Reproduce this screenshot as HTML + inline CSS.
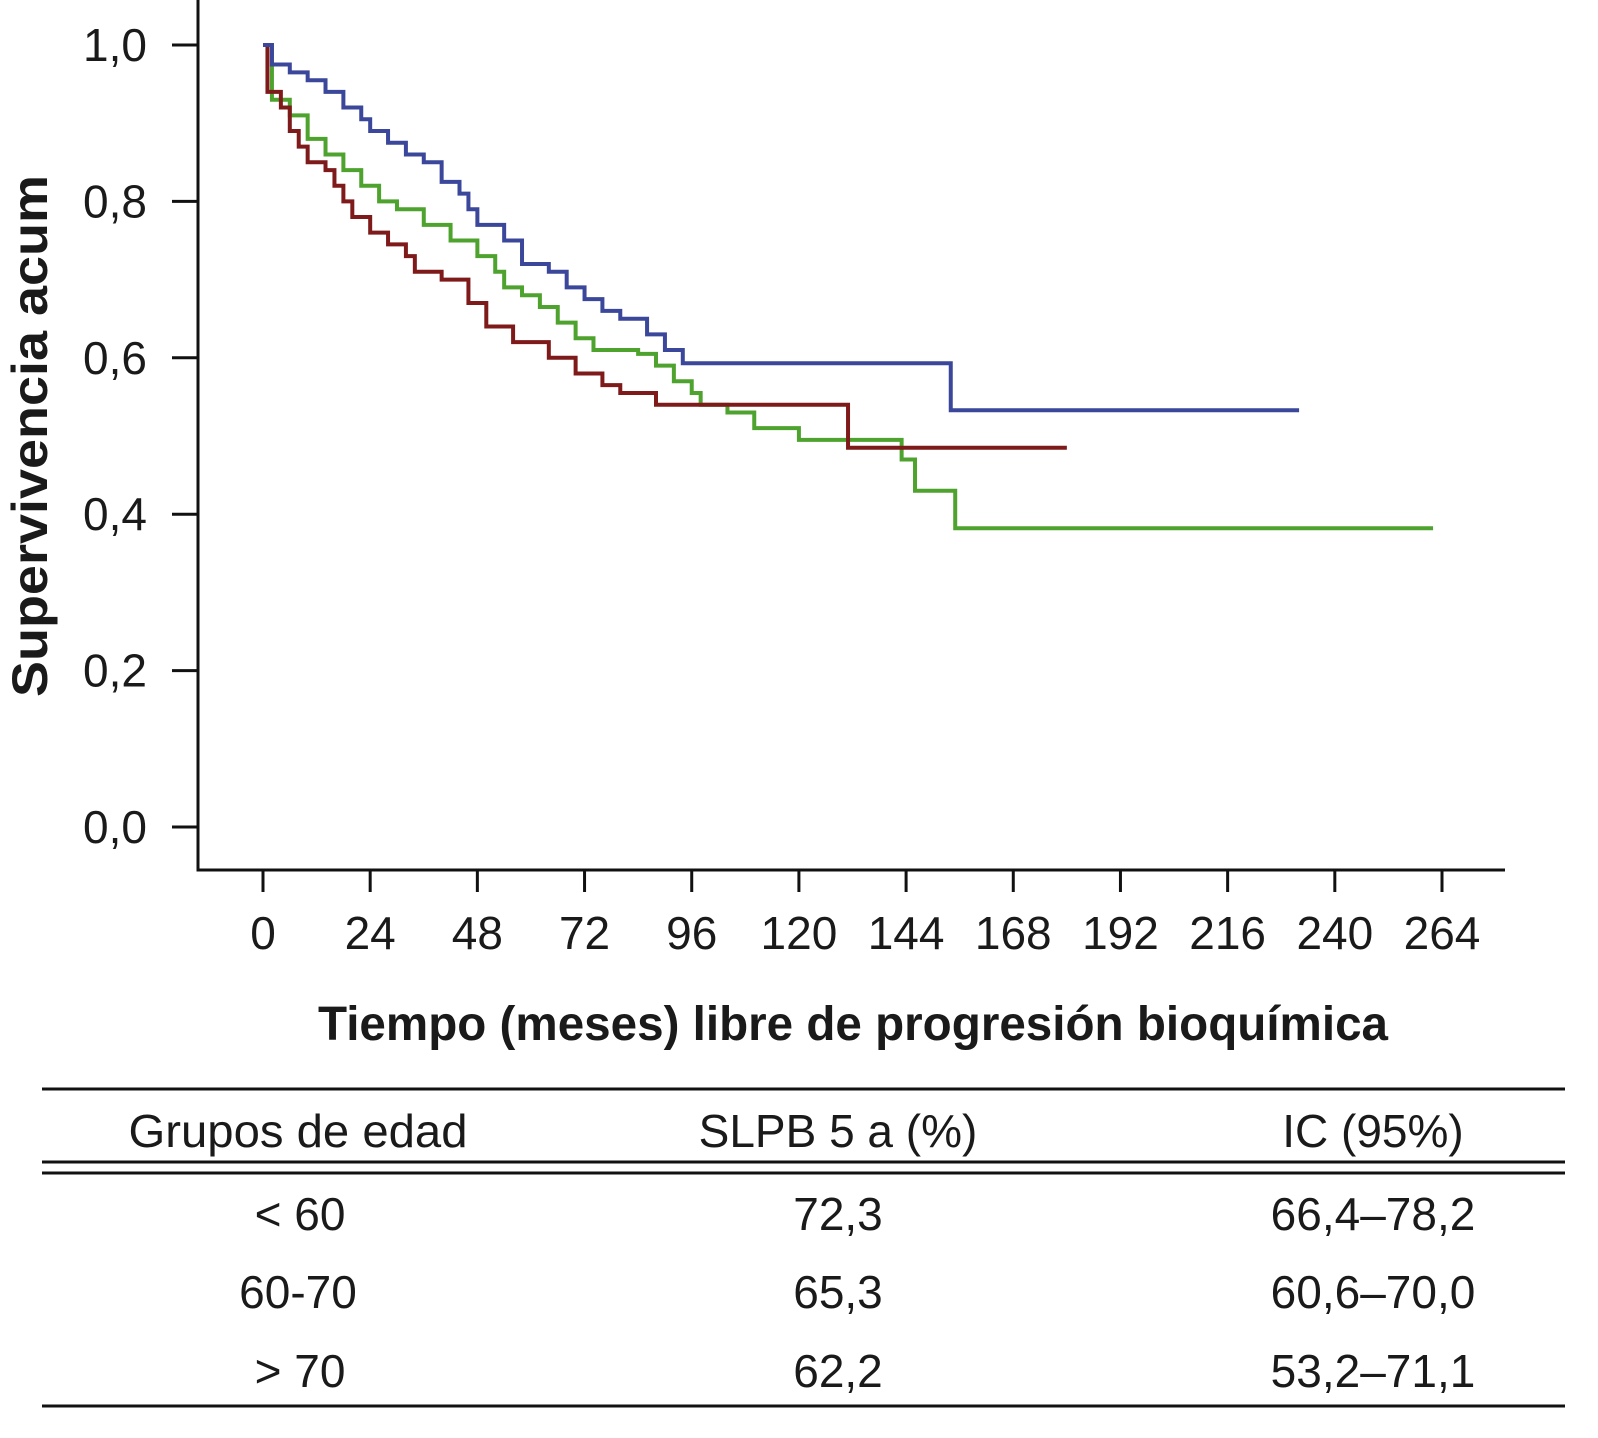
<!DOCTYPE html>
<html><head><meta charset="utf-8">
<style>
html,body{margin:0;padding:0;background:#fff;}
svg{display:block;}
text{font-family:"Liberation Sans Narrow","Liberation Sans",sans-serif;fill:#1a1a1a;}
</style></head>
<body>
<svg id="chart" width="1598" height="1438" viewBox="0 0 1598 1438" xmlns="http://www.w3.org/2000/svg">
<g id="axes"></g>
<g id="series"></g>
<text transform="translate(47,436) rotate(-90)" text-anchor="middle" font-size="50" font-weight="bold" style="font-family:'Liberation Sans',sans-serif" textLength="522" lengthAdjust="spacingAndGlyphs">Supervivencia acum</text>
<text x="853" y="1040" text-anchor="middle" font-size="48" font-weight="bold" style="font-family:'Liberation Sans',sans-serif" textLength="1070" lengthAdjust="spacingAndGlyphs">Tiempo (meses) libre de progresión bioquímica</text>
<g>
<line x1="42" y1="1089" x2="1565" y2="1089" stroke="#111" stroke-width="3"/>
<line x1="42" y1="1162" x2="1565" y2="1162" stroke="#111" stroke-width="3"/>
<line x1="42" y1="1173" x2="1565" y2="1173" stroke="#111" stroke-width="3"/>
<line x1="42" y1="1406" x2="1565" y2="1406" stroke="#111" stroke-width="3"/>
<g font-size="46" text-anchor="middle">
<text x="298" y="1147" textLength="339" lengthAdjust="spacingAndGlyphs">Grupos de edad</text>
<text x="838" y="1147">SLPB 5 a (%)</text>
<text x="1373" y="1147">IC (95%)</text>
<text x="300" y="1230">&lt; 60</text>
<text x="838" y="1230">72,3</text>
<text x="1373" y="1230">66,4–78,2</text>
<text x="298" y="1308">60-70</text>
<text x="838" y="1308">65,3</text>
<text x="1373" y="1308">60,6–70,0</text>
<text x="300" y="1387">&gt; 70</text>
<text x="838" y="1387">62,2</text>
<text x="1373" y="1387">53,2–71,1</text>
</g></g>
</svg>
<script>
const xTicks=[0,24,48,72,96,120,144,168,192,216,240,264];
const yTicks=[0,0.2,0.4,0.6,0.8,1.0];
const yTickLabels=["0,0","0,2","0,4","0,6","0,8","1,0"];
const blueT=[0,2,6,10,14,18,22,24,28,32,36,40,44,46,48,54,58,64,68,72,76,80,86,90,94,154,232];
const blueS=[1.0,0.975,0.965,0.955,0.94,0.92,0.905,0.89,0.875,0.86,0.85,0.825,0.81,0.79,0.77,0.75,0.72,0.71,0.69,0.675,0.66,0.65,0.63,0.61,0.593,0.533,0.533];
const redT=[0,1,4,6,8,10,14,16,18,20,24,28,32,34,40,46,50,56,64,70,76,80,88,131,180];
const redS=[1.0,0.94,0.92,0.89,0.87,0.85,0.84,0.82,0.80,0.78,0.76,0.745,0.73,0.71,0.70,0.67,0.64,0.62,0.60,0.58,0.565,0.555,0.54,0.485,0.485];
const greenT=[0,2,6,10,14,18,22,26,30,36,42,48,52,54,58,62,66,70,74,84,88,92,96,98,104,110,120,143,146,155,262];
const greenS=[1.0,0.93,0.91,0.88,0.86,0.84,0.82,0.80,0.79,0.77,0.75,0.73,0.71,0.69,0.68,0.665,0.645,0.625,0.61,0.605,0.59,0.57,0.555,0.54,0.53,0.51,0.495,0.47,0.43,0.382,0.382];
const NS='http://www.w3.org/2000/svg';
const X=t=>263+t*(1442-263)/264;
const Y=v=>827-v*(827-45);
function mk(tag,attrs,parent){const e=document.createElementNS(NS,tag);for(const k in attrs)e.setAttribute(k,attrs[k]);parent.appendChild(e);return e;}
const axes=document.getElementById('axes');
let l=mk('path',{d:'M198 0 V870 H1505',fill:'none',stroke:'#111','stroke-width':3},axes);


yTicks.forEach((v,i)=>{
  const tk=mk('line',{x1:172,x2:198,y1:Y(v),y2:Y(v),stroke:'#111','stroke-width':3},axes);
  
  
  const tx=mk('text',{x:147,y:Y(v)+16,'text-anchor':'end','font-size':46},axes);
  tx.textContent=yTickLabels[i];
  
  
});
xTicks.forEach(t=>{
  const tk=mk('line',{x1:X(t),x2:X(t),y1:870,y2:892,stroke:'#111','stroke-width':3},axes);
  
  
  const tx=mk('text',{x:X(t),y:949,'text-anchor':'middle','font-size':46},axes);
  tx.textContent=String(t);
  
  
});
const ser=document.getElementById('series');
function step(T,S,color,name){
  let d='M'+X(T[0])+' '+Y(S[0]);
  for(let i=1;i<T.length;i++){d+=' H'+X(T[i])+' V'+Y(S[i]);}
  const p=mk('path',{d:d,fill:'none',stroke:color,'stroke-width':4},ser);
  
  
}
step(greenT,greenS,'#4ea22e','curve-over-70');
step(redT,redS,'#7f1a1a','curve-60-70');
step(blueT,blueS,'#3a479a','curve-under-60');
</script>
</body></html>
